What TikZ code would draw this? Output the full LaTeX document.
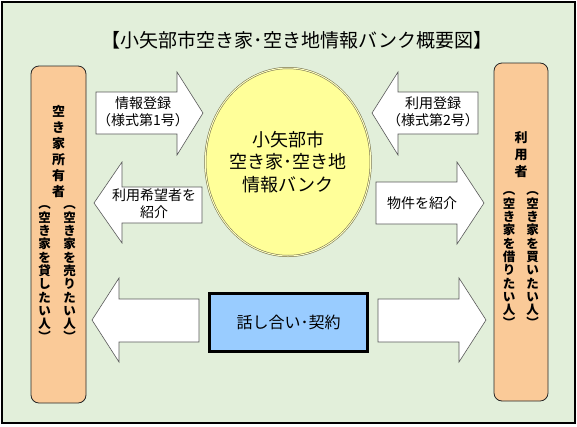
\documentclass[tikz,border=0pt]{standalone}
\usepackage{fontspec}
\usetikzlibrary{shapes.geometric}
\newfontfamily\jp{Noto Sans CJK JP}
\definecolor{bggreen}{RGB}{226,239,218}
\definecolor{peach}{RGB}{250,202,152}
\definecolor{bankyellow}{RGB}{255,255,153}
\definecolor{dealblue}{RGB}{153,204,255}
\definecolor{olivedark}{RGB}{110,105,70}
\begin{document}
\begin{tikzpicture}[x=1pt,y=-1pt,
  frame/.style={draw=black,line width=1.5pt,fill=bggreen},
  personbox/.style={draw=black!85,line width=0.8pt,fill=peach,rounded corners=8pt},
  blockarrow/.style={draw=black!65,line width=0.6pt,fill=white,line join=miter},
  arrowtext/.style={font=\jp\fontsize{14}{17}\selectfont,align=center,inner sep=0pt},
  vhead/.style={font=\jp\bfseries\fontsize{13}{16}\selectfont,align=center,inner sep=0pt},
  vcol/.style={font=\jp\bfseries\fontsize{12.5}{13.3}\selectfont,align=center,inner sep=0pt},
  titletext/.style={font=\jp\fontsize{19}{21}\selectfont,inner sep=0pt},
  bankshape/.style={ellipse,draw=olivedark,line width=0.5pt,double=bankyellow!60!white,double distance=1pt,
    fill=bankyellow,minimum width=164pt,minimum height=188pt,inner sep=0pt,align=center,
    font=\jp\fontsize{18}{22.5}\selectfont},
  dealbox/.style={draw=black,line width=3pt,fill=dealblue,minimum width=158pt,minimum height=58pt,
    inner sep=0pt,font=\jp\fontsize{16}{18}\selectfont}
]
\useasboundingbox (0,0) rectangle (577,426);
\fill[white] (0,0) rectangle (577,426);
\draw[frame] (2,2) rectangle (575,423);

\node[titletext] (title) at (297,40) {【小矢部市空き家･空き地情報バンク概要図】};

% person boxes
\draw[personbox] (31,66) rectangle (86,403);
\draw[personbox] (494,63) rectangle (548,401);

\node[vhead] (ownerT) at (58.5,152) {空\\き\\家\\所\\有\\者};
\node[vcol] (ownerR) at (69.5,274) {︵\\空\\き\\家\\を\\売\\り\\た\\い\\人\\︶};
\node[vcol] (ownerL) at (44.5,274) {︵\\空\\き\\家\\を\\貸\\し\\た\\い\\人\\︶};

\node[vhead,font=\jp\bfseries\fontsize{13}{17}\selectfont] (userT) at (521,155) {利\\用\\者};
\node[vcol] (userR) at (532.5,260) {︵\\空\\き\\家\\を\\買\\い\\た\\い\\人\\︶};
\node[vcol] (userL) at (509,260) {︵\\空\\き\\家\\を\\借\\り\\た\\い\\人\\︶};

% bank
\node[bankshape] (bank) at (288,162) {小矢部市\\空き家･空き地\\情報バンク};

% block arrows
\draw[blockarrow] (96,92) -- (177,92) -- (177,72) -- (203,113) -- (177,155) -- (177,134) -- (96,134) -- cycle;
\draw[blockarrow] (94,203) -- (122,162) -- (122,187) -- (202,187) -- (202,223) -- (122,223) -- (122,243) -- cycle;
\draw[blockarrow] (372,113) -- (398,72) -- (398,92) -- (478,92) -- (478,134) -- (398,134) -- (398,155) -- cycle;
\draw[blockarrow] (376,182) -- (457,182) -- (457,162) -- (484,203) -- (457,244) -- (457,224) -- (376,224) -- cycle;
\draw[blockarrow] (92,320) -- (119,278) -- (119,299) -- (199,299) -- (199,342) -- (119,342) -- (119,362) -- cycle;
\draw[blockarrow] (378,299) -- (459,299) -- (459,278) -- (486,320) -- (459,362) -- (459,342) -- (378,342) -- cycle;

\node[arrowtext] (reg1) at (143,112) {情報登録\\（様式第1号）};
\node[arrowtext] (intro1) at (154,204) {利用希望者を\\紹介};
\node[arrowtext] (reg2) at (433,112) {利用登録\\（様式第2号）};
\node[arrowtext] (intro2) at (422,203) {物件を紹介};

\node[dealbox] (deal) at (288.5,322.5) {話し合い･契約};
\end{tikzpicture}
\end{document}
